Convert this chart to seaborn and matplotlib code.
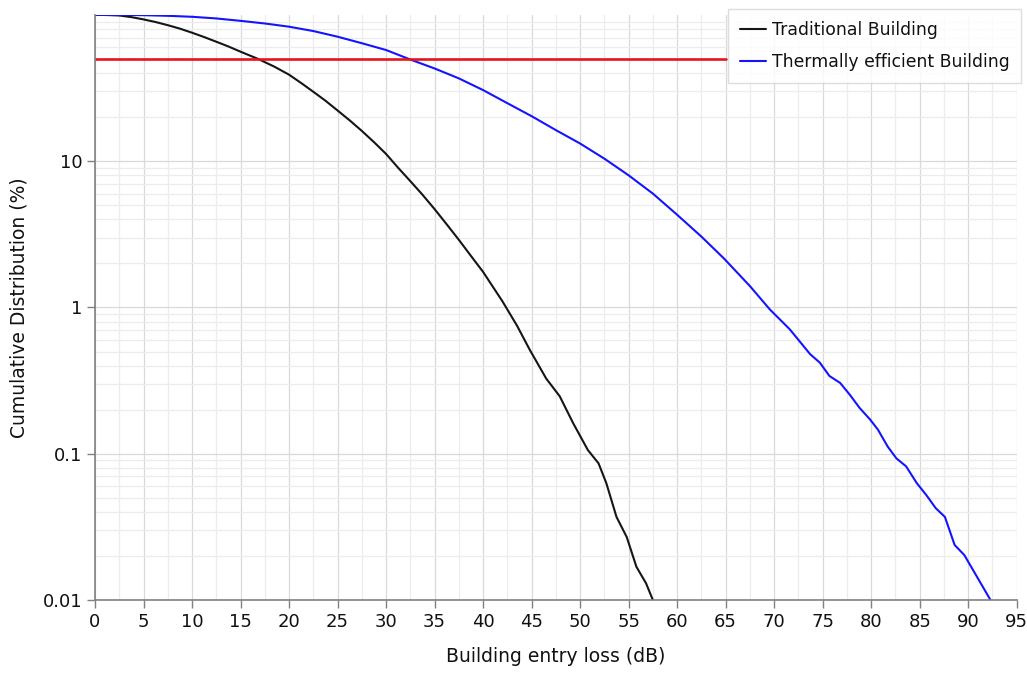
import numpy as np
import pandas as pd
import matplotlib
matplotlib.use("Agg")
import matplotlib.pyplot as plt
import seaborn as sns
from matplotlib.ticker import FixedLocator, LogLocator, NullFormatter

# Traditional building: entry loss (dB) vs cumulative distribution (%)
trad_loss = [0, 1.25, 2.5, 3.75, 5, 6.25, 7.5, 8.75, 10, 11.25, 12.5, 13.75, 15, 16.8, 18.5,
             20, 21.25, 22.5, 23.75, 25, 26.25, 27.5, 28.75, 30, 31.25, 32.5, 33.75, 35,
             36.25, 37.5, 38.75, 40, 42, 43.5, 44.8, 46.5, 47.9, 49.3, 50.8, 51.9,
             52.7, 53.75, 54.8, 55.8, 56.8, 57.5]
trad_pct = [100, 99.7, 99, 96.5, 93.1, 89.3, 85, 80.5, 75.5, 70.5, 65.5, 60.8, 56, 50, 44.2,
            39, 34.2, 29.8, 25.9, 22.2, 19, 16.1, 13.5, 11.2, 9.0, 7.3, 5.9, 4.7,
            3.7, 2.9, 2.25, 1.75, 1.1, 0.75, 0.515, 0.327, 0.247, 0.161, 0.106, 0.086,
            0.063, 0.037, 0.027, 0.0169, 0.013, 0.01]

# Thermally efficient building
eff_loss = [0, 2.5, 5, 7.5, 10, 12.5, 15, 17.5, 20, 22.5, 25, 27.5, 30, 32.5, 35, 37.5,
            40, 42.5, 45, 47.5, 50, 52.5, 55, 57.5, 60, 62.5, 64.8, 67.5, 69.55,
            71.6, 73.7, 74.7, 75.7, 76.8, 77.8, 78.8, 79.9, 80.7, 81.7, 82.6, 83.6, 84.7,
            85.7, 86.65, 87.6, 88.6, 89.6, 92.3]
eff_pct = [100, 99.9, 99.5, 98.5, 97, 94.5, 91, 87.3, 83, 77.5, 70.9, 64, 57.5, 49.5, 43,
           36.8, 30.6, 24.9, 20.3, 16.3, 13.2, 10.4, 8.0, 6.0, 4.3, 3.05, 2.17, 1.4,
           0.97, 0.71, 0.48, 0.42, 0.34, 0.305, 0.253, 0.206, 0.171, 0.146, 0.112, 0.093,
           0.082, 0.063, 0.052, 0.0425, 0.037, 0.0238, 0.0203, 0.01]

# 50 % reference line
ref_loss = [0, 65]
ref_pct = [50, 50]

x_ticks = list(range(0, 96, 5))
y_ticks = [0.01, 0.1, 1, 10]
y_tick_labels = ["0.01", "0.1", "1", "10"]

sns.set_style("white")
plt.rcParams['font.family'] = ['DejaVu Sans']

fig = plt.figure(figsize=(10.27, 6.75), dpi=100)
ax = fig.add_axes([0.0925, 0.111, 0.8975, 0.867])

df_trad = pd.DataFrame({"loss": trad_loss, "pct": trad_pct})
df_eff = pd.DataFrame({"loss": eff_loss, "pct": eff_pct})
df_ref = pd.DataFrame({"loss": ref_loss, "pct": ref_pct})

sns.lineplot(data=df_trad, x="loss", y="pct", ax=ax, color="#151515", lw=1.5,
             label="Traditional Building", estimator=None, sort=False)
sns.lineplot(data=df_eff, x="loss", y="pct", ax=ax, color="#1414ff", lw=1.5,
             label="Thermally efficient Building", estimator=None, sort=False)
sns.lineplot(data=df_ref, x="loss", y="pct", ax=ax, color="#e8141c", lw=1.9,
             legend=False, estimator=None)

ax.set_yscale("log")
ax.set_xlim(0, 95)
ax.set_ylim(0.01, 100)

ax.xaxis.set_major_locator(FixedLocator(x_ticks))
ax.xaxis.set_minor_locator(FixedLocator(np.arange(2.5, 95, 5)))
ax.yaxis.set_major_locator(FixedLocator(y_ticks))
ax.set_yticklabels(y_tick_labels)
ax.yaxis.set_minor_locator(LogLocator(base=10, subs=np.arange(2, 10)))
ax.yaxis.set_minor_formatter(NullFormatter())

ax.grid(which="major", color="#d9d9d9", lw=0.9)
ax.grid(which="minor", color="#ececec", lw=0.9)
ax.set_axisbelow(True)

for s in ["top", "right"]:
    ax.spines[s].set_visible(False)
for s in ["left", "bottom"]:
    ax.spines[s].set_color("#808080")
    ax.spines[s].set_linewidth(1.2)

ax.tick_params(which="major", direction="out", length=6, color="#808080", width=1,
               labelsize=13, left=True, bottom=True, pad=3, labelcolor="#111111")
ax.tick_params(which="minor", length=0)

ax.set_xlabel("Building entry loss (dB)", fontsize=13.5, labelpad=12, color="#111111")
ax.set_ylabel("Cumulative Distribution (%)", fontsize=13.5, labelpad=10, color="#111111")

leg = ax.legend(loc="upper right", bbox_to_anchor=(1.005, 1.01), fontsize=12.4,
                frameon=True, fancybox=False, handlelength=1.5, handletextpad=0.35,
                borderpad=0.7, labelspacing=0.8, borderaxespad=0)
leg.get_frame().set_edgecolor("#d5d5d5")
leg.get_frame().set_linewidth(1)
for t in leg.get_texts():
    t.set_color("#111111")

fig.savefig("out.png", dpi=100)
